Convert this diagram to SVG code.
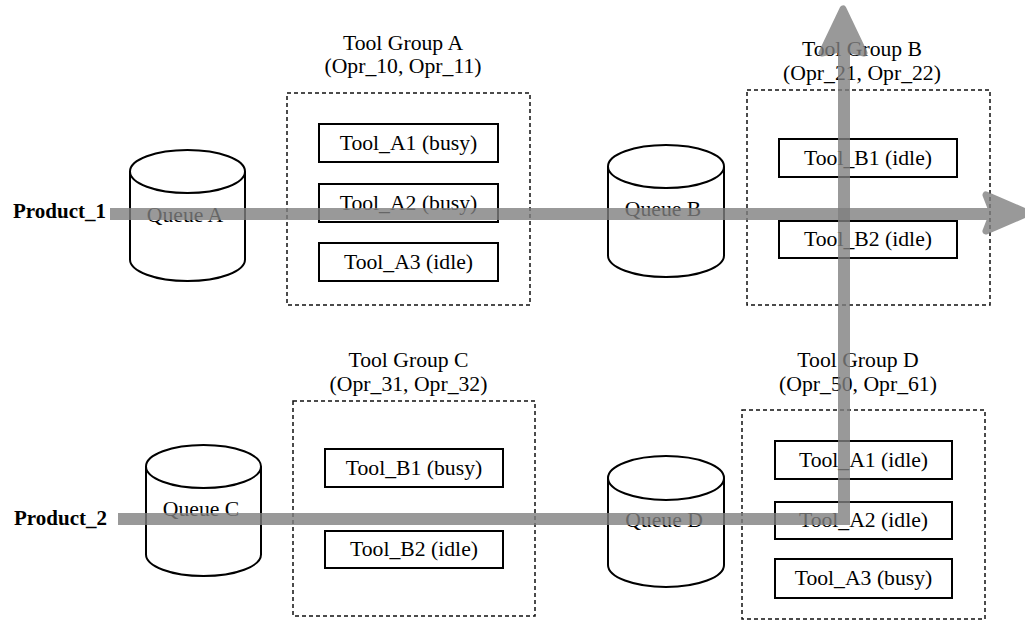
<svg xmlns="http://www.w3.org/2000/svg" width="1025" height="621" viewBox="0 0 1025 621">
<style>
text{font-family:"Liberation Serif","Times New Roman",serif;font-size:21.7px;fill:#000}
.c{text-anchor:middle}
.prod{font-weight:bold;fill:#000;font-size:21px}
.grp{fill:#fff;stroke:#111;stroke-width:1.5;stroke-dasharray:4 3}
.tool{fill:#fff;stroke:#000;stroke-width:2}
.cyl{fill:#fff;stroke:#000;stroke-width:2}
.flow{fill:none;stroke:#808080;stroke-width:12}
.head{fill:#808080;stroke:#808080;stroke-width:7;stroke-linejoin:round}
.ov{opacity:0.8}
</style>
<g id="product1"><text class="prod" x="13" y="218">Product_1</text></g>
<g id="product2"><text class="prod" x="14" y="525">Product_2</text></g>

<g id="queueA">
<path class="cyl" d="M130,171.5 L130,259.5 A57.5,21.5 0 0 0 245,259.5 L245,171.5"/>
<ellipse class="cyl" cx="187.5" cy="171.5" rx="57.5" ry="21.5"/>
<text class="c" x="185" y="222">Queue A</text>
</g>
<g id="queueB">
<path class="cyl" d="M608,166.5 L608,255.5 A58,21.5 0 0 0 724,255.5 L724,166.5"/>
<ellipse class="cyl" cx="666" cy="166.5" rx="58" ry="21.5"/>
<text class="c" x="663" y="216">Queue B</text>
</g>
<g id="queueC">
<path class="cyl" d="M146,466.5 L146,554.5 A57.5,21.5 0 0 0 261,554.5 L261,466.5"/>
<ellipse class="cyl" cx="203.5" cy="466.5" rx="57.5" ry="21.5"/>
<text class="c" x="201" y="516">Queue C</text>
</g>
<g id="queueD">
<path class="cyl" d="M608,478 L608,565 A58,22 0 0 0 724,565 L724,478"/>
<ellipse class="cyl" cx="666" cy="478" rx="58" ry="22"/>
<text class="c" x="664" y="527">Queue D</text>
</g>

<g id="groupA">
<text class="c" x="403" y="50">Tool Group A</text>
<text class="c" x="403" y="73">(Opr_10, Opr_11)</text>
<rect class="grp" x="287" y="93" width="243" height="212"/>
<rect class="tool" x="319" y="124" width="179" height="38"/>
<text class="c" x="408.5" y="150">Tool_A1 (busy)</text>
<rect class="tool" x="319" y="184" width="179" height="38"/>
<text class="c" x="408.5" y="210">Tool_A2 (busy)</text>
<rect class="tool" x="319" y="243" width="179" height="38"/>
<text class="c" x="408.5" y="269">Tool_A3 (idle)</text>
</g>

<g id="groupB">
<text class="c" x="862" y="56">Tool Group B</text>
<text class="c" x="862" y="80">(Opr_21, Opr_22)</text>
<rect class="grp" x="747" y="90" width="243" height="215"/>
<rect class="tool" x="779" y="139" width="178" height="38"/>
<text class="c" x="868" y="165">Tool_B1 (idle)</text>
<rect class="tool" x="779" y="221" width="178" height="37"/>
<text class="c" x="868" y="246">Tool_B2 (idle)</text>
</g>

<g id="groupC">
<text class="c" x="408.5" y="367">Tool Group C</text>
<text class="c" x="408.5" y="391">(Opr_31, Opr_32)</text>
<rect class="grp" x="293" y="401" width="242" height="215"/>
<rect class="tool" x="325" y="449" width="178" height="38"/>
<text class="c" x="414" y="475">Tool_B1 (busy)</text>
<rect class="tool" x="325" y="531" width="178" height="37"/>
<text class="c" x="414" y="556">Tool_B2 (idle)</text>
</g>

<g id="groupD">
<text class="c" x="858" y="367">Tool Group D</text>
<text class="c" x="858" y="391">(Opr_50, Opr_61)</text>
<rect class="grp" x="742" y="410" width="243" height="209"/>
<rect class="tool" x="775" y="441" width="177" height="38"/>
<text class="c" x="863.5" y="467">Tool_A1 (idle)</text>
<rect class="tool" x="775" y="502" width="177" height="37"/>
<text class="c" x="863.5" y="527">Tool_A2 (idle)</text>
<rect class="tool" x="775" y="559" width="177" height="39"/>
<text class="c" x="863.5" y="585">Tool_A3 (busy)</text>
</g>

<g id="connectors">
<g class="ov">
<path class="flow" d="M110,214 L995,214"/>
<path class="head" d="M1028,213 L986,195 L993,213 L986,231 Z"/>
</g>
<g class="ov">
<path class="flow" d="M118,519 L844,519 L844,48"/>
<path class="head" d="M843,9 L822,53 L843,48 L864,53 Z"/>
</g>
</g>
</svg>
